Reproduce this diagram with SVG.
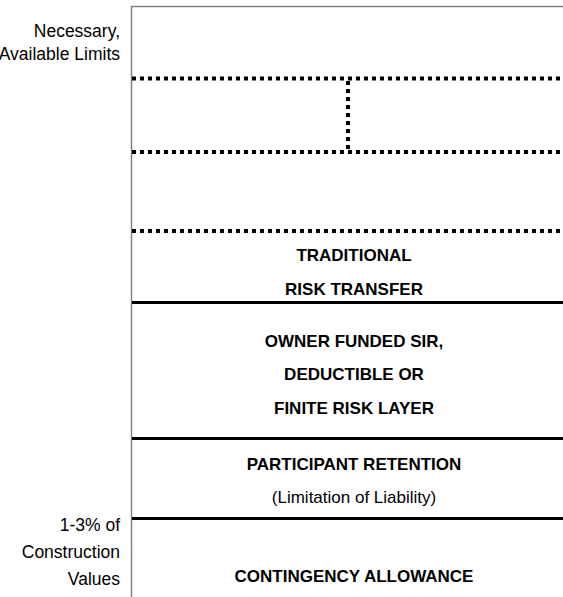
<svg xmlns="http://www.w3.org/2000/svg" width="563" height="597" viewBox="0 0 563 597">
<style>
.frame{stroke:#808080;stroke-width:1.5;fill:none}
.dot{stroke:#000;stroke-width:4;stroke-dasharray:4 4;fill:none}
.solid{stroke:#000;stroke-width:3;fill:none}
.lbl{font-family:"Liberation Sans",Arial,sans-serif;font-size:17.5px;fill:#000;text-anchor:end}
.b{font-family:"Liberation Sans",Arial,sans-serif;font-size:17px;font-weight:bold;fill:#000;text-anchor:middle}
.n{font-family:"Liberation Sans",Arial,sans-serif;font-size:17px;fill:#000;text-anchor:middle}
</style>
<rect width="563" height="597" fill="#fff"/>
<g id="connectors">
<path class="frame" d="M131.5 597 V6.5 H563"/>
<path class="dot" d="M132 78.5 H563"/>
<path class="dot" d="M132 152 H563"/>
<path class="dot" d="M348 81 V149"/>
<path class="dot" d="M132 231 H563"/>
<path class="solid" d="M132 302.5 H563"/>
<path class="solid" d="M132 438.5 H563"/>
<path class="solid" d="M132 518.5 H563"/>
</g>
<g id="label-top">
<text class="lbl" x="120" y="36.5">Necessary,</text>
<text class="lbl" x="120" y="60">Available Limits</text>
</g>
<g id="traditional">
<text class="b" x="354" y="261">TRADITIONAL</text>
<text class="b" x="354" y="295">RISK TRANSFER</text>
</g>
<g id="owner-funded">
<text class="b" x="354" y="347">OWNER FUNDED SIR,</text>
<text class="b" x="354" y="380">DEDUCTIBLE OR</text>
<text class="b" x="354" y="414">FINITE RISK LAYER</text>
</g>
<g id="participant">
<text class="b" x="354" y="470">PARTICIPANT RETENTION</text>
<text class="n" x="354" y="503">(Limitation of Liability)</text>
</g>
<g id="contingency">
<text class="b" x="354" y="582">CONTINGENCY ALLOWANCE</text>
</g>
<g id="label-bottom">
<text class="lbl" x="120" y="531">1-3% of</text>
<text class="lbl" x="120" y="558">Construction</text>
<text class="lbl" x="120" y="585">Values</text>
</g>
</svg>
